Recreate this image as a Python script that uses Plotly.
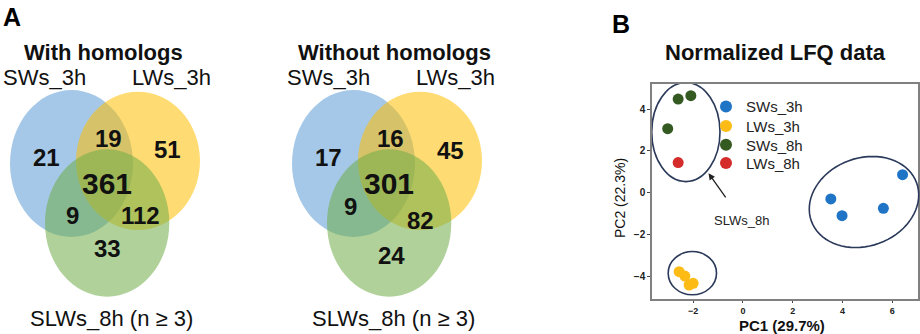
import numpy as np
import plotly.graph_objects as go

W, H = 920, 334
FONT = "Liberation Sans, Arial, sans-serif"

# ---------------- data ----------------
venn_titles = ["With homologs", "Without homologs"]
set_labels = ["SWs_3h", "LWs_3h", "SLWs_8h (n \u2265 3)"]
# region order: SW only, LW only, SW&LW, all three, SW&SL, LW&SL, SL only
with_homologs = [21, 51, 19, 361, 9, 112, 33]
without_homologs = [17, 45, 16, 301, 9, 82, 24]

pca_groups = ["SWs_3h", "LWs_3h", "SWs_8h", "LWs_8h"]
pc1_sws3 = [6.41, 3.53, 3.98, 5.64]
pc2_sws3 = [0.86, -0.30, -1.10, -0.75]
pc1_lws3 = [-2.56, -2.33, -2.16, -2.00]
pc2_lws3 = [-3.78, -3.99, -4.42, -4.34]
pc1_sws8 = [-2.60, -2.09, -3.02]
pc2_sws8 = [4.48, 4.64, 3.06]
pc1_lws8 = [-2.60]
pc2_lws8 = [1.44]
pc_colors = ["#1f74c6", "#fdbb16", "#345a22", "#d42b2b"]
x_ticks = [-2, 0, 2, 4, 6]
y_ticks = [-4, -2, 0, 2, 4]

# ---------------- helpers ----------------
def px(x):
    return x / W

def py(y):
    return 1 - y / H

fig = go.Figure()

legend_names = ["legend", "legend2", "legend3", "legend4"]
legend_rows = [106.7, 126.3, 145, 163.3]

# PCA scatter
for name, xs, ys, col, lg in zip(
    pca_groups,
    [pc1_sws3, pc1_lws3, pc1_sws8, pc1_lws8],
    [pc2_sws3, pc2_lws3, pc2_sws8, pc2_lws8],
    pc_colors, legend_names,
):
    fig.add_trace(go.Scatter(x=xs, y=ys, mode="markers", name=name, legend=lg,
                             marker=dict(size=11, color=col, line=dict(width=0)),
                             showlegend=True, hoverinfo="skip"))

shapes = []
annotations = []

def txt(text, x, y, size, color="#111111", **kw):
    d = dict(text=text, x=px(x), y=py(y), xref="paper", yref="paper", showarrow=False,
             xanchor="center", yanchor="middle",
             font=dict(size=size, color=color, family=FONT))
    d.update(kw)
    annotations.append(d)

# ---------------- Venn diagrams ----------------
venn_colors = ["#5b9bd5", "#ffc000", "#70ad47"]
venn_alpha = 0.55
circle_boxes = [  # (x0, x1, y0, y1) in pixels, left panel
    (10, 133, 90, 237),
    (76, 200, 91.7, 230),
    (45, 169.3, 149.3, 296.7),
]
panel_offsets = [0, 282]
region_pos = [
    [(46.7, 157), (167, 149), (108, 138), (107, 183), (72.7, 215), (140.7, 215), (107, 248)],
    [(328, 157), (450, 150), (390, 138), (389, 183), (350.7, 207), (420.7, 220), (391.7, 255)],
]
title_pos = [(103, 52), (394, 52)]
label_pos = [
    [(44, 77), (171.7, 77), (111, 318)],
    [(328, 77), (455, 77), (393, 318)],
]

for p, (title, counts) in enumerate(zip(venn_titles, [with_homologs, without_homologs])):
    off = panel_offsets[p]
    for (x0, x1, y0, y1), col in zip(circle_boxes, venn_colors):
        shapes.append(dict(type="circle", xref="paper", yref="paper",
                           x0=px(x0 + off), x1=px(x1 + off), y0=py(y1), y1=py(y0),
                           fillcolor=col, opacity=venn_alpha, line=dict(width=0),
                           layer="below"))
    txt("<b>%s</b>" % title, title_pos[p][0], title_pos[p][1], 22)
    for lab, (lx, ly) in zip(set_labels, label_pos[p]):
        txt(lab, lx, ly, 22)
    for i, (c, (rx, ry)) in enumerate(zip(counts, region_pos[p])):
        txt("<b>%d</b>" % c, rx, ry, 30 if i == 3 else 24)

# panel letters
txt("<b>A</b>", 12, 17, 25, "#000000")
txt("<b>B</b>", 621, 24, 25, "#000000")

# ---------------- PCA panel decorations ----------------
txt("<b>Normalized LFQ data</b>", 775, 53, 22)
txt("<b>PC1 (29.7%)</b>", 782, 325, 15)
txt("PC2 (22.3%)", 620, 198, 14, textangle=-90)
# arrow + label
annotations.append(dict(text="", x=-1.38, y=0.93, ax=-0.65, ay=-0.30, xref="x", yref="y",
                        axref="x", ayref="y", showarrow=True, arrowhead=2, arrowsize=1,
                        arrowwidth=1.3, arrowcolor="#222222"))
annotations.append(dict(text="SLWs_8h", x=-0.05, y=-1.31, xref="x", yref="y", showarrow=False,
                        xanchor="center", yanchor="middle",
                        font=dict(size=13, color="#222222", family=FONT)))

ell_line = dict(color="#2b3a5a", width=1.6)
# left (SWs_8h + LWs_8h) cluster
shapes.append(dict(type="circle", xref="x", yref="y", x0=-3.66, x1=-0.92, y0=0.53, y1=5.27,
                   line=ell_line, fillcolor="rgba(0,0,0,0)"))
# bottom (LWs_3h) cluster
shapes.append(dict(type="circle", xref="x", yref="y", x0=-3.0, x1=-1.06, y0=-4.89, y1=-2.82,
                   line=ell_line, fillcolor="rgba(0,0,0,0)"))
# tilted ellipse (SWs_3h cluster) drawn in pixel space
t = np.linspace(0, 2 * np.pi, 73)
cx, cy, a, b, th = 864, 202, 56, 44, np.deg2rad(20)
ex = cx + a * np.cos(t) * np.cos(th) - b * np.sin(t) * np.sin(th)
ey = cy - (a * np.cos(t) * np.sin(th) + b * np.sin(t) * np.cos(th))
path = "M " + " L ".join("%.5f,%.5f" % (px(xx), py(yy)) for xx, yy in zip(ex, ey)) + " Z"
shapes.append(dict(type="path", xref="paper", yref="paper", path=path, line=ell_line))

legends = {}
for lg, row in zip(legend_names, legend_rows):
    legends[lg] = dict(x=px(706), y=py(row), xanchor="left", yanchor="middle",
                       bgcolor="rgba(0,0,0,0)", borderwidth=0,
                       font=dict(size=15, family=FONT, color="#222222"),
                       itemsizing="constant")

fig.update_layout(
    width=W, height=H,
    margin=dict(l=0, r=0, t=0, b=0, autoexpand=False),
    paper_bgcolor="white", plot_bgcolor="white",
    font=dict(family=FONT, color="#111111"),
    shapes=shapes, annotations=annotations,
    showlegend=True,
    xaxis=dict(domain=[px(652), px(918)], range=[-3.65, 7.03], automargin=False,
               tickvals=x_ticks, showgrid=False, zeroline=False,
               showline=True, mirror=True, linecolor="#808080", linewidth=1.5,
               ticks="outside", ticklen=2, tickcolor="#444444",
               tickfont=dict(size=9, weight="bold", color="#222222", family=FONT)),
    yaxis=dict(domain=[py(299), py(84)], range=[-5.09, 5.2], automargin=False,
               tickvals=y_ticks, showgrid=False, zeroline=False,
               showline=True, mirror=True, linecolor="#808080", linewidth=1.5,
               ticks="outside", ticklen=3, tickcolor="#444444",
               tickfont=dict(size=10, weight="bold", color="#222222", family=FONT)),
    **legends,
)

fig.write_html("out.html", config={"displayModeBar": False},
               post_script="document.body.style.margin='0px';document.body.style.padding='0px';")
